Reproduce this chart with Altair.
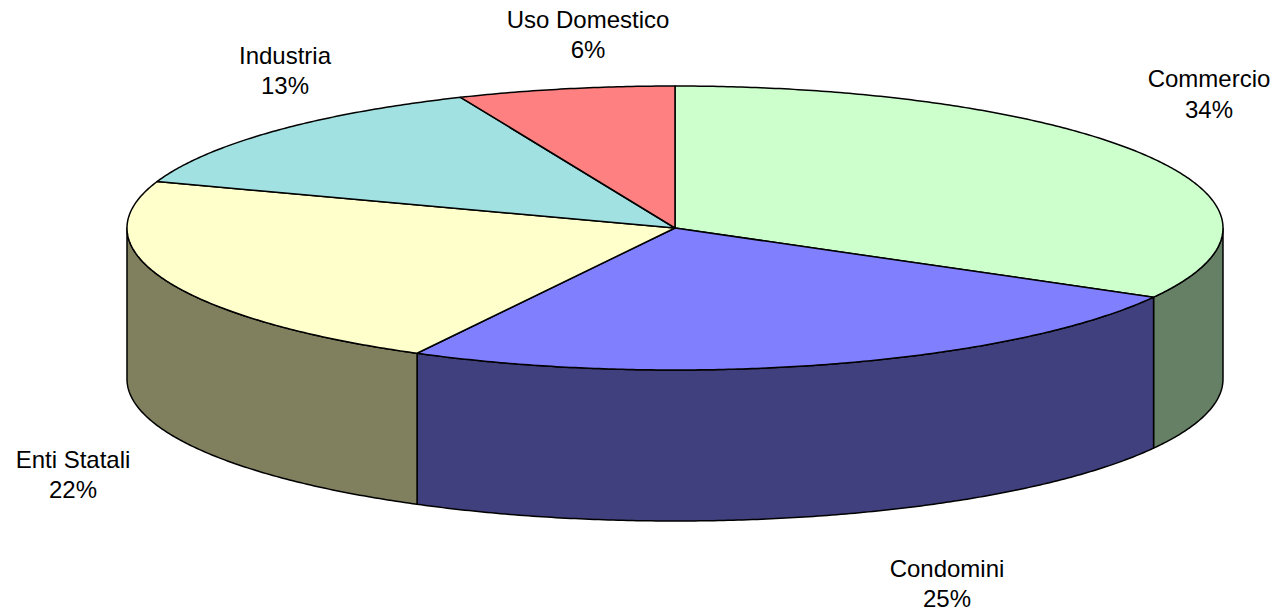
import math
import altair as alt
import pandas as pd

categories = ["Commercio", "Condomini", "Enti Statali", "Industria", "Uso Domestico"]
percent_labels = ["34%", "25%", "22%", "13%", "6%"]
drawn_shares = [33.1, 24.7, 22.5, 13.3, 6.4]
top_colors = ["#CCFFCC", "#8080FF", "#FFFFCC", "#A1E1E1", "#FF8080"]
side_colors = ["#668066", "#40407F", "#80805F", "#50706F", "#804040"]
label_x = [1209, 947, 73, 285, 588]
label_name_y = [80, 570, 461, 57, 21]
label_pct_y = [111, 600, 491, 87, 51]

CX, CY, RX, RY, DEPTH = 675, 228, 548, 142, 151


def pt(deg, drop=0):
    a = math.radians(deg)
    return CX + RX * math.sin(a), CY - RY * math.cos(a) + drop


x_scale = alt.Scale(domain=[8, 1270], range=[0, 1262], nice=False, zero=False)
y_scale = alt.Scale(domain=[8, 612], range=[0, 604], nice=False, zero=False)


def poly(points, fill):
    df = pd.DataFrame(
        {"px": [p[0] for p in points], "py": [p[1] for p in points], "i": range(len(points))}
    )
    return (
        alt.Chart(df)
        .mark_line(fill=fill, stroke="black", strokeWidth=1.5, strokeJoin="round", clip=False)
        .encode(
            x=alt.X("px:Q", scale=x_scale, axis=None),
            y=alt.Y("py:Q", scale=y_scale, axis=None),
            order="i:Q",
        )
    )


def arc(a, b):
    n = max(2, int(abs(b - a) * 2))
    return [a + (b - a) * k / n for k in range(n + 1)]


layers = []
start = 0.0
spans = []
for s in drawn_shares:
    end = start + s * 3.6
    spans.append((start, end))
    start = end

# front walls (only the part of the rim facing the viewer)
for (a, b), col in zip(spans, side_colors):
    lo, hi = max(a, 90), min(b, 270)
    if lo < hi:
        degs = arc(lo, hi)
        pts = [pt(d) for d in degs] + [pt(d, DEPTH) for d in reversed(degs)]
        pts.append(pts[0])
        layers.append(poly(pts, col))

# top face
for (a, b), col in zip(spans, top_colors):
    pts = [(CX, CY)] + [pt(d) for d in arc(a, b)] + [(CX, CY)]
    layers.append(poly(pts, col))

text_df = pd.DataFrame(
    {
        "t": categories + percent_labels,
        "px": label_x + label_x,
        "py": label_name_y + label_pct_y,
    }
)
texts = (
    alt.Chart(text_df)
    .mark_text(font="Liberation Sans", fontSize=24, color="black", align="center", baseline="middle")
    .encode(
        x=alt.X("px:Q", scale=x_scale, axis=None),
        y=alt.Y("py:Q", scale=y_scale, axis=None),
        text="t:N",
    )
)
layers.append(texts)

chart = (
    alt.layer(*layers)
    .properties(width=1262, height=604, padding=0, background="white",
                autosize=alt.AutoSizeParams(type="none"))
    .configure_view(stroke="transparent", strokeWidth=0)
)
chart.save("out.html", embed_options={"renderer": "svg", "actions": False})
